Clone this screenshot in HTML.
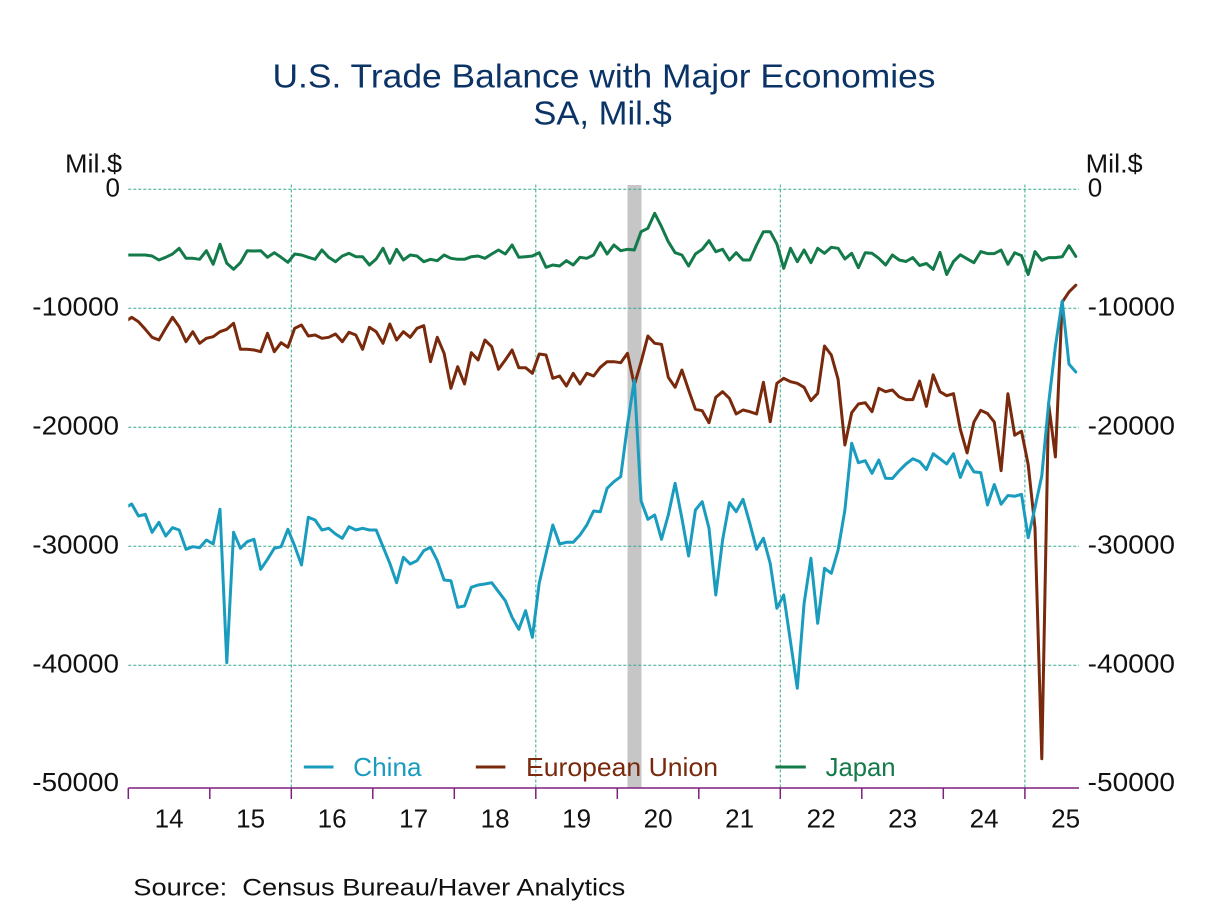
<!DOCTYPE html>
<html>
<head>
<meta charset="utf-8">
<style>
html,body{margin:0;padding:0;background:#fff;}
svg{display:block;}
text{font-family:"Liberation Sans",Arial,sans-serif;}
</style>
</head>
<body>
<svg width="1208" height="906" viewBox="0 0 1208 906" xmlns="http://www.w3.org/2000/svg">
<defs>
<clipPath id="pc"><rect x="128.3" y="150" width="950.7" height="640"/></clipPath>
</defs>
<rect width="1208" height="906" fill="#fff"/>

<!-- Title -->
<text x="272.5" y="87.7" font-size="33" fill="#0b3366" textLength="663" lengthAdjust="spacingAndGlyphs">U.S. Trade Balance with Major Economies</text>
<text x="533.3" y="124.3" font-size="33" fill="#0b3366" textLength="138.4" lengthAdjust="spacingAndGlyphs">SA, Mil.$</text>

<!-- Recession bar -->
<rect x="627.5" y="185" width="14" height="603" fill="#c6c6c6"/>

<!-- Horizontal grid -->
<g stroke="#35a88f" stroke-width="1" stroke-dasharray="3,2" fill="none">
<line x1="128.3" y1="189.3" x2="1079" y2="189.3"/>
<line x1="128.3" y1="308.3" x2="1079" y2="308.3"/>
<line x1="128.3" y1="427.3" x2="1079" y2="427.3"/>
<line x1="128.3" y1="546.3" x2="1079" y2="546.3"/>
<line x1="128.3" y1="665.3" x2="1079" y2="665.3"/>
<line x1="291.3" y1="184.5" x2="291.3" y2="788"/>
<line x1="535.8" y1="184.5" x2="535.8" y2="788"/>
<line x1="780.3" y1="184.5" x2="780.3" y2="788"/>
<line x1="1024.9" y1="184.5" x2="1024.9" y2="788"/>
</g>

<!-- Axis -->
<g stroke="#7f1f7f" stroke-width="1.5">
<line x1="128.3" y1="788" x2="1079" y2="788"/>
<line x1="128.3" y1="788" x2="128.3" y2="799"/>
<line x1="209.8" y1="788" x2="209.8" y2="799"/>
<line x1="291.3" y1="788" x2="291.3" y2="799"/>
<line x1="372.8" y1="788" x2="372.8" y2="799"/>
<line x1="454.3" y1="788" x2="454.3" y2="799"/>
<line x1="535.8" y1="788" x2="535.8" y2="799"/>
<line x1="617.3" y1="788" x2="617.3" y2="799"/>
<line x1="698.8" y1="788" x2="698.8" y2="799"/>
<line x1="780.3" y1="788" x2="780.3" y2="799"/>
<line x1="861.8" y1="788" x2="861.8" y2="799"/>
<line x1="943.3" y1="788" x2="943.3" y2="799"/>
<line x1="1024.9" y1="788" x2="1024.9" y2="799"/>
</g>

<!-- Year labels -->
<g font-size="26" fill="#111" text-anchor="middle">
<text x="169.1" y="827.3">14</text>
<text x="250.6" y="827.3">15</text>
<text x="332.1" y="827.3">16</text>
<text x="413.6" y="827.3">17</text>
<text x="495.1" y="827.3">18</text>
<text x="576.6" y="827.3">19</text>
<text x="658.1" y="827.3">20</text>
<text x="739.6" y="827.3">21</text>
<text x="821.1" y="827.3">22</text>
<text x="902.6" y="827.3">23</text>
<text x="984.1" y="827.3">24</text>
<text x="1065.6" y="827.3">25</text>
</g>

<!-- Left Y labels -->
<g font-size="26" fill="#111">
<text x="65" y="172.7" textLength="57" lengthAdjust="spacingAndGlyphs">Mil.$</text>
<text x="105.5" y="196.3">0</text>
<text x="32.3" y="315.6" textLength="86.7" lengthAdjust="spacingAndGlyphs">-10000</text>
<text x="32.3" y="434.6" textLength="86.7" lengthAdjust="spacingAndGlyphs">-20000</text>
<text x="32.3" y="553.6" textLength="86.7" lengthAdjust="spacingAndGlyphs">-30000</text>
<text x="32.3" y="672.6" textLength="86.7" lengthAdjust="spacingAndGlyphs">-40000</text>
<text x="32.3" y="790.8" textLength="86.7" lengthAdjust="spacingAndGlyphs">-50000</text>
</g>
<!-- Right Y labels -->
<g font-size="26" fill="#111">
<text x="1085.7" y="172.7" textLength="57" lengthAdjust="spacingAndGlyphs">Mil.$</text>
<text x="1087.7" y="196.3">0</text>
<text x="1087.7" y="315.6" textLength="87.3" lengthAdjust="spacingAndGlyphs">-10000</text>
<text x="1087.7" y="434.6" textLength="87.3" lengthAdjust="spacingAndGlyphs">-20000</text>
<text x="1087.7" y="553.6" textLength="87.3" lengthAdjust="spacingAndGlyphs">-30000</text>
<text x="1087.7" y="672.6" textLength="87.3" lengthAdjust="spacingAndGlyphs">-40000</text>
<text x="1087.7" y="790.8" textLength="87.3" lengthAdjust="spacingAndGlyphs">-50000</text>
</g>

<!-- Series -->
<g clip-path="url(#pc)" fill="none" stroke-width="3" stroke-linejoin="round" stroke-linecap="round">
<!-- European Union -->
<polyline stroke="#7a2a0c" points="124.9,322 131.7,317.3 138.5,321.7 145.3,329.3 152.1,337.3 158.9,340 165.7,328.3 172.5,317.3 179.2,326.7 186.0,341.7 192.8,331.7 199.6,343.3 206.4,338.3 213.2,336.7 220.0,331.7 226.8,329.3 233.6,323.3 240.4,349.3 247.2,349.3 254.0,350 260.7,351.7 267.5,333.3 274.3,351.7 281.1,342.7 287.9,347.3 294.7,328.3 301.5,325 308.3,336 315.1,335 321.9,338.3 328.7,337.3 335.5,334 342.3,341.7 349.0,332.3 355.8,335 362.6,349.3 369.4,327.3 376.2,331.7 383.0,343.3 389.8,324 396.6,340 403.4,331.7 410.2,337.3 417.0,328.3 423.8,325.7 430.5,361.7 437.3,337.3 444.1,353.3 450.9,388.3 457.7,366.7 464.5,384 471.3,352.7 478.1,360 484.9,340 491.7,346.7 498.5,369.3 505.3,360 512.1,350 518.8,367.7 525.6,367.7 532.4,373.3 539.2,354 546.0,355 552.8,378.3 559.6,376 566.4,386 573.2,373.3 580.0,384 586.8,373.3 593.6,376 600.3,367.3 607.1,361.7 613.9,361.7 620.7,362.7 627.5,353.3 634.3,385 641.1,362 647.9,336 654.7,343.3 661.5,344.3 668.3,377.3 675.1,387.3 681.9,370 688.6,390 695.4,409.3 702.2,410.7 709.0,422.7 715.8,397.3 722.6,391.7 729.4,398.3 736.2,414 743.0,410 749.8,411.7 756.6,414 763.4,382.3 770.2,421.7 776.9,383.3 783.7,378.3 790.5,381.7 797.3,383.3 804.1,387.3 810.9,400.7 817.7,393.3 824.5,346 831.3,355 838.1,379.3 844.9,445 851.7,412.7 858.4,404 865.2,402.7 872.0,411.7 878.8,388.3 885.6,391.7 892.4,390 899.2,396.9 906.0,399.6 912.8,399.6 919.6,381.1 926.4,406.3 933.2,374.8 940.0,391.7 946.7,395.7 953.5,393.7 960.3,429.2 967.1,452.9 973.9,422.1 980.7,410.3 987.5,413.5 994.3,422.1 1001.1,470.7 1007.9,393.7 1014.7,435.2 1021.5,431.2 1028.2,464.7 1035.0,527.9 1041.8,758.7 1048.6,403.6 1055.4,456.9 1062.2,302.2 1069.0,291.9 1075.8,285.2"/>
<!-- Japan -->
<polyline stroke="#137a4a" points="124.9,255 131.7,255 138.5,255 145.3,255 152.1,256 158.9,260 165.7,257.3 172.5,254 179.2,248.3 186.0,258.3 192.8,258.3 199.6,259.3 206.4,250.7 213.2,264.3 220.0,244.3 226.8,263.3 233.6,269.3 240.4,262.7 247.2,250.7 254.0,251 260.7,250.7 267.5,257.3 274.3,252.7 281.1,257.3 287.9,262.3 294.7,254 301.5,255 308.3,257.3 315.1,259.3 321.9,250 328.7,257.3 335.5,261.7 342.3,256 349.0,253.3 355.8,256.7 362.6,256.7 369.4,265 376.2,259 383.0,248.3 389.8,263.3 396.6,249.3 403.4,260 410.2,255 417.0,256 423.8,261.7 430.5,259.3 437.3,260.7 444.1,255 450.9,258.3 457.7,259.3 464.5,259.3 471.3,256.7 478.1,256 484.9,258.3 491.7,254 498.5,250 505.3,254 512.1,245 518.8,257.3 525.6,256.7 532.4,256 539.2,252.7 546.0,267.3 552.8,265 559.6,266 566.4,260.7 573.2,265 580.0,257.3 586.8,258.3 593.6,255 600.3,242.7 607.1,254 613.9,245 620.7,250.7 627.5,249.3 634.3,250 641.1,231.7 647.9,228.3 654.7,213.3 661.5,226.7 668.3,241.7 675.1,252.7 681.9,255 688.6,266 695.4,254 702.2,249.3 709.0,240.7 715.8,251.7 722.6,249.3 729.4,260 736.2,252.7 743.0,260 749.8,260 756.6,245 763.4,231.7 770.2,231.7 776.9,244 783.7,268.3 790.5,248.3 797.3,261.7 804.1,250 810.9,262.7 817.7,248.3 824.5,253.3 831.3,247.3 838.1,248.3 844.9,259 851.7,253.3 858.4,267.7 865.2,252.7 872.0,253.3 878.8,258.3 885.6,265 892.4,255 899.2,260 906.0,261.5 912.8,257.6 919.6,265.5 926.4,263.5 933.2,269.4 940.0,252.4 946.7,274.5 953.5,261.5 960.3,254.8 967.1,258.8 973.9,262.7 980.7,251.6 987.5,253.6 994.3,253.6 1001.1,250.1 1007.9,264.3 1014.7,252.8 1021.5,255.6 1028.2,274.5 1035.0,251.6 1041.8,260.3 1048.6,257.6 1055.4,257.6 1062.2,256.8 1069.0,245.7 1075.8,256.4"/>
<!-- China -->
<polyline stroke="#1a9cbf" points="124.9,508 131.7,504 138.5,516 145.3,514.3 152.1,532.3 158.9,522.3 165.7,536 172.5,527.7 179.2,530 186.0,549.3 192.8,546.7 199.6,547.7 206.4,540 213.2,544 220.0,509.3 226.8,662.7 233.6,532.3 240.4,548.3 247.2,541.7 254.0,539.3 260.7,569.3 267.5,559.3 274.3,548.3 281.1,546.7 287.9,529.3 294.7,546 301.5,565 308.3,517.3 315.1,520 321.9,530 328.7,528.3 335.5,534 342.3,538.3 349.0,526.7 355.8,530 362.6,528.3 369.4,530 376.2,530 383.0,546.7 389.8,563.3 396.6,582.7 403.4,557.3 410.2,564 417.0,560.7 423.8,550.7 430.5,547.3 437.3,560.7 444.1,580 450.9,580.7 457.7,607.3 464.5,606 471.3,587.3 478.1,585 484.9,584 491.7,582.7 498.5,591.7 505.3,600.7 512.1,617.3 518.8,629.3 525.6,610.7 532.4,637.3 539.2,583.3 546.0,554 552.8,525 559.6,544 566.4,542.3 573.2,542.3 580.0,535 586.8,525 593.6,511 600.3,511.7 607.1,488.3 613.9,481.7 620.7,476.7 627.5,425 634.3,380 641.1,501 647.9,519.3 654.7,515 661.5,539.3 668.3,515 675.1,483.3 681.9,518.3 688.6,556 695.4,510 702.2,501.7 709.0,528.3 715.8,595 722.6,540 729.4,502.7 736.2,511.7 743.0,499.3 749.8,523.3 756.6,549.3 763.4,538.3 770.2,563.3 776.9,608.3 783.7,595 790.5,641.7 797.3,688.3 804.1,603.3 810.9,558.3 817.7,623.3 824.5,568.3 831.3,573.3 838.1,550 844.9,510 851.7,443.3 858.4,462.7 865.2,460.7 872.0,473.3 878.8,460 885.6,478.3 892.4,478.5 899.2,470.7 906.0,464 912.8,458.8 919.6,461.6 926.4,469.5 933.2,453.7 940.0,458.8 946.7,464 953.5,453.7 960.3,477.4 967.1,460.8 973.9,471.9 980.7,472.6 987.5,505 994.3,484.5 1001.1,504.2 1007.9,495.5 1014.7,496.3 1021.5,494.3 1028.2,537.7 1035.0,507.4 1041.8,475.8 1048.6,403.6 1055.4,346.4 1062.2,301 1069.0,364.1 1075.8,372"/>
</g>

<!-- Legend -->
<g stroke-width="3">
<line x1="303.8" y1="767" x2="333.5" y2="767" stroke="#1a9cbf"/>
<line x1="475.8" y1="767" x2="505.4" y2="767" stroke="#7a2a0c"/>
<line x1="775.4" y1="767" x2="805.8" y2="767" stroke="#137a4a"/>
</g>
<g font-size="26">
<text x="353.2" y="776" fill="#1a9cbf" textLength="68.4" lengthAdjust="spacingAndGlyphs">China</text>
<text x="526" y="776" fill="#7a2a0c" textLength="192" lengthAdjust="spacingAndGlyphs">European Union</text>
<text x="825.6" y="776" fill="#137a4a" textLength="70" lengthAdjust="spacingAndGlyphs">Japan</text>
</g>

<!-- Source -->
<text x="133.3" y="895.7" font-size="24" fill="#111" textLength="492" lengthAdjust="spacingAndGlyphs" xml:space="preserve">Source:  Census Bureau/Haver Analytics</text>
</svg>
</body>
</html>
